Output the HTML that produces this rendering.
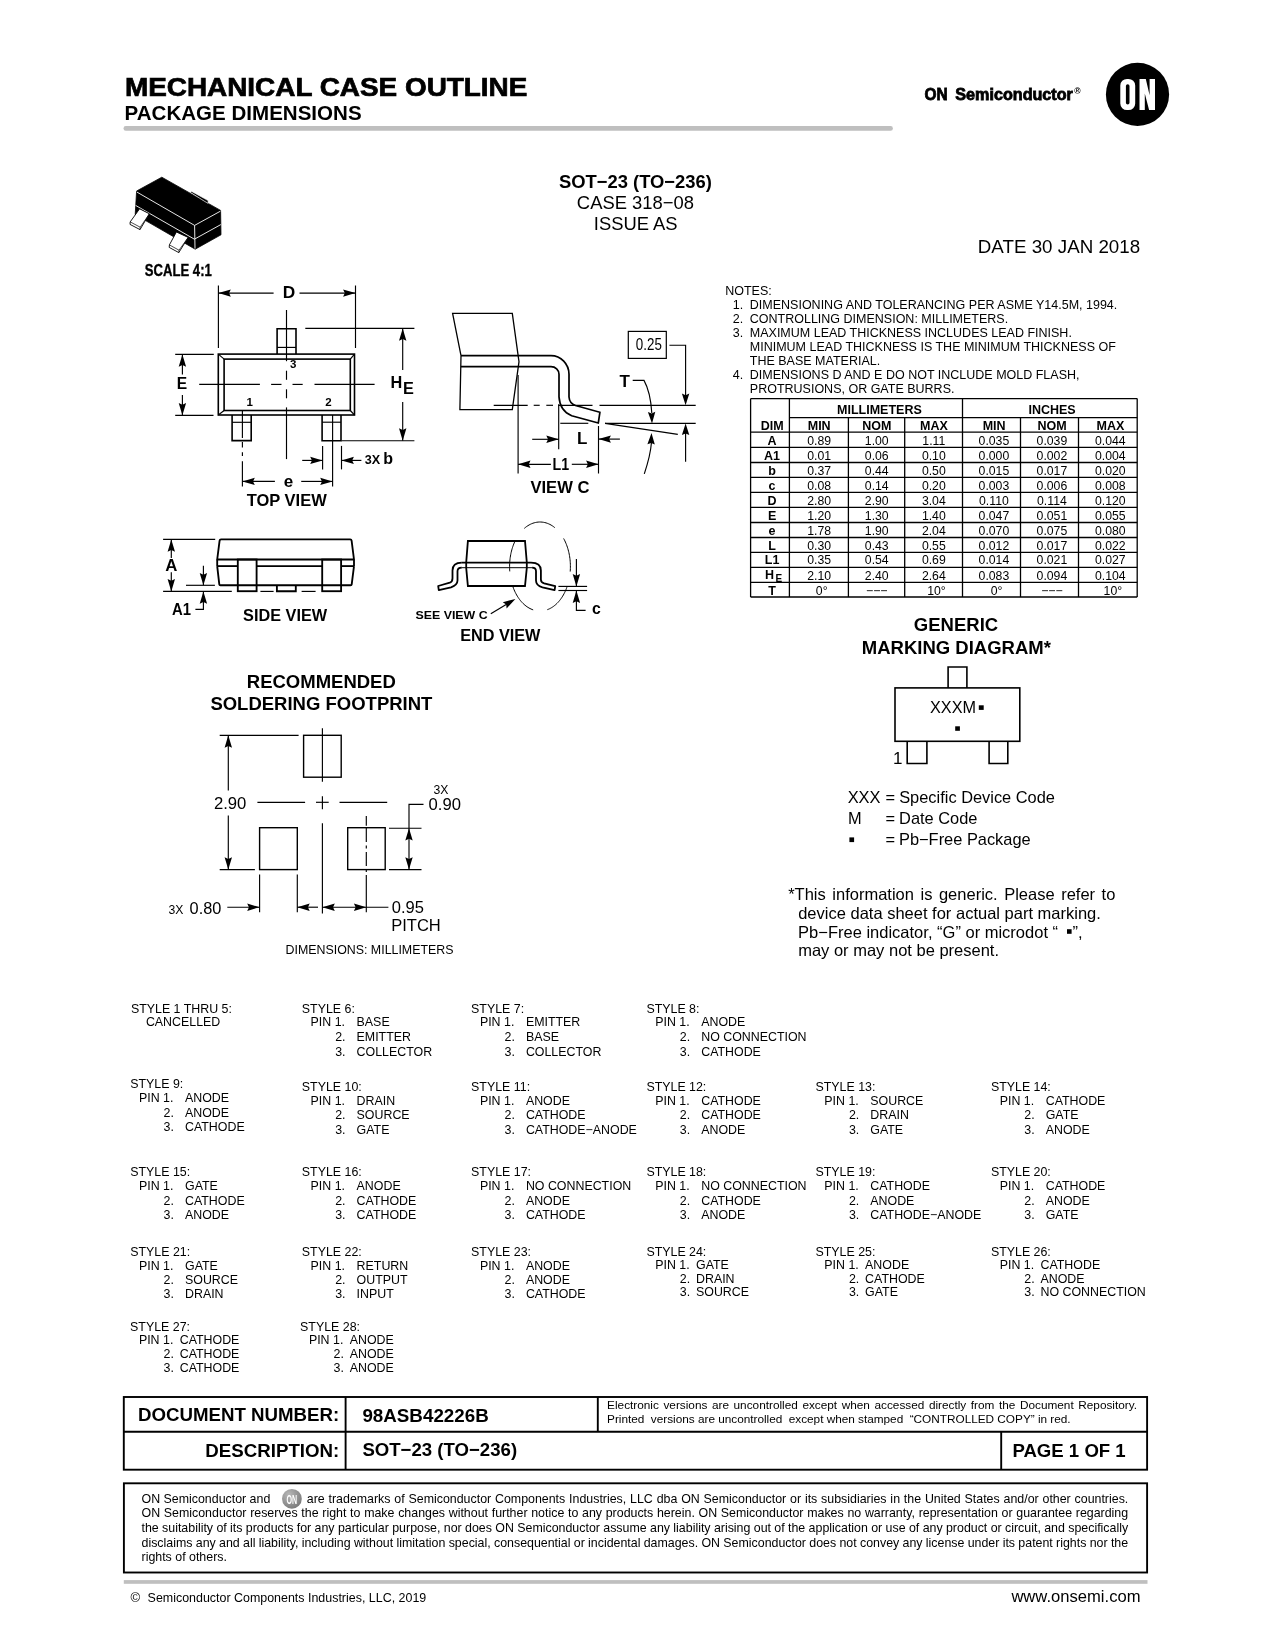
<!DOCTYPE html>
<html><head><meta charset="utf-8"><style>
html,body{margin:0;padding:0;background:#fff;}
body{width:1275px;height:1650px;position:relative;overflow:hidden;font-family:"Liberation Sans",sans-serif;}
svg{position:absolute;left:0;top:0;will-change:transform;}
svg text{font-family:"Liberation Sans",sans-serif;}
.j{position:absolute;white-space:nowrap;text-align:justify;text-align-last:justify;font-family:"Liberation Sans",sans-serif;line-height:1;}
</style></head><body>
<svg width="1275" height="1650" viewBox="0 0 1275 1650">
<text x="124.90" y="95.70" font-size="26" font-weight="bold" textLength="402.50" lengthAdjust="spacingAndGlyphs" stroke="#000" stroke-width="0.7">MECHANICAL CASE OUTLINE</text>
<text x="124.60" y="119.80" font-size="20.6" font-weight="bold" textLength="237.00" lengthAdjust="spacingAndGlyphs" >PACKAGE DIMENSIONS</text>
<rect x="123.5" y="126.1" width="769.4" height="4.6" rx="2.3" fill="#bfbfbf"/>
<text x="924.60" y="100.10" font-size="16.6" font-weight="bold" textLength="23.20" lengthAdjust="spacingAndGlyphs" stroke="#000" stroke-width="0.8">ON</text>
<text x="955.30" y="100.10" font-size="16.6" font-weight="bold" textLength="117.60" lengthAdjust="spacingAndGlyphs" stroke="#000" stroke-width="0.8">Semiconductor</text>
<text x="1074.30" y="94.30" font-size="8.6" font-weight="bold" >®</text>
<circle cx="1137.5" cy="94.4" r="31.6" fill="#000"/>
<path fill="#fff" fill-rule="evenodd" d="M1127.0,78.9 H1128.5 A6.7,6.7 0 0 1 1135.2,85.6 V103.4 A6.7,6.7 0 0 1 1128.5,110.1 H1127.0 A6.7,6.7 0 0 1 1120.3,103.4 V85.6 A6.7,6.7 0 0 1 1127.0,78.9 Z M1127.7,84.2 A1.8,1.8 0 0 0 1125.9,86.0 V102.7 A1.8,1.8 0 0 0 1127.7,104.5 A1.8,1.8 0 0 0 1129.5,102.7 V86.0 A1.8,1.8 0 0 0 1127.7,84.2 Z"/>
<path fill="#fff" d="M1139.5,78.9 L1145.8,78.9 L1149.6,95.2 L1149.6,78.9 L1155.0,78.9 L1155.0,110.1 L1149.1,110.1 L1144.8,93.6 L1144.8,110.1 L1139.5,110.1 Z"/>
<text x="635.40" y="187.70" font-size="18.4" font-weight="bold" text-anchor="middle" >SOT−23 (TO−236)</text>
<text x="635.40" y="208.60" font-size="18.4" text-anchor="middle" >CASE 318−08</text>
<text x="635.70" y="230.30" font-size="18.4" text-anchor="middle" >ISSUE AS</text>
<text x="977.80" y="252.60" font-size="18.7" textLength="162.40" lengthAdjust="spacingAndGlyphs" >DATE 30 JAN 2018</text>
<text x="725.20" y="294.80" font-size="12.5" >NOTES:</text>
<text x="732.80" y="308.80" font-size="12.5" >1.</text>
<text x="749.80" y="308.80" font-size="12.5" >DIMENSIONING AND TOLERANCING PER ASME Y14.5M, 1994.</text>
<text x="732.80" y="322.80" font-size="12.5" >2.</text>
<text x="749.80" y="322.80" font-size="12.5" >CONTROLLING DIMENSION: MILLIMETERS.</text>
<text x="732.80" y="336.80" font-size="12.5" >3.</text>
<text x="749.80" y="336.80" font-size="12.5" >MAXIMUM LEAD THICKNESS INCLUDES LEAD FINISH.</text>
<text x="749.80" y="350.80" font-size="12.5" >MINIMUM LEAD THICKNESS IS THE MINIMUM THICKNESS OF</text>
<text x="749.80" y="364.80" font-size="12.5" >THE BASE MATERIAL.</text>
<text x="732.80" y="378.80" font-size="12.5" >4.</text>
<text x="749.80" y="378.80" font-size="12.5" >DIMENSIONS D AND E DO NOT INCLUDE MOLD FLASH,</text>
<text x="749.80" y="392.80" font-size="12.5" >PROTRUSIONS, OR GATE BURRS.</text>
<line x1="750.60" y1="398.60" x2="1137.20" y2="398.60" stroke="#000" stroke-width="1.3"/>
<line x1="750.60" y1="597.00" x2="1137.20" y2="597.00" stroke="#000" stroke-width="1.3"/>
<line x1="789.40" y1="417.60" x2="1137.20" y2="417.60" stroke="#000" stroke-width="1.3"/>
<line x1="750.60" y1="432.10" x2="1137.20" y2="432.10" stroke="#000" stroke-width="1.3"/>
<line x1="750.60" y1="447.40" x2="1137.20" y2="447.40" stroke="#000" stroke-width="1.3"/>
<line x1="750.60" y1="462.50" x2="1137.20" y2="462.50" stroke="#000" stroke-width="1.3"/>
<line x1="750.60" y1="477.40" x2="1137.20" y2="477.40" stroke="#000" stroke-width="1.3"/>
<line x1="750.60" y1="492.40" x2="1137.20" y2="492.40" stroke="#000" stroke-width="1.3"/>
<line x1="750.60" y1="507.40" x2="1137.20" y2="507.40" stroke="#000" stroke-width="1.3"/>
<line x1="750.60" y1="522.50" x2="1137.20" y2="522.50" stroke="#000" stroke-width="1.3"/>
<line x1="750.60" y1="537.50" x2="1137.20" y2="537.50" stroke="#000" stroke-width="1.3"/>
<line x1="750.60" y1="552.30" x2="1137.20" y2="552.30" stroke="#000" stroke-width="1.3"/>
<line x1="750.60" y1="567.30" x2="1137.20" y2="567.30" stroke="#000" stroke-width="1.3"/>
<line x1="750.60" y1="582.30" x2="1137.20" y2="582.30" stroke="#000" stroke-width="1.3"/>
<line x1="750.60" y1="398.60" x2="750.60" y2="597.00" stroke="#000" stroke-width="1.3"/>
<line x1="789.40" y1="398.60" x2="789.40" y2="597.00" stroke="#000" stroke-width="1.3"/>
<line x1="848.40" y1="417.60" x2="848.40" y2="597.00" stroke="#000" stroke-width="1.3"/>
<line x1="904.70" y1="417.60" x2="904.70" y2="597.00" stroke="#000" stroke-width="1.3"/>
<line x1="962.50" y1="398.60" x2="962.50" y2="597.00" stroke="#000" stroke-width="1.3"/>
<line x1="1020.50" y1="417.60" x2="1020.50" y2="597.00" stroke="#000" stroke-width="1.3"/>
<line x1="1078.50" y1="417.60" x2="1078.50" y2="597.00" stroke="#000" stroke-width="1.3"/>
<line x1="1137.20" y1="398.60" x2="1137.20" y2="597.00" stroke="#000" stroke-width="1.3"/>
<text x="879.45" y="413.80" font-size="12.5" font-weight="bold" text-anchor="middle" >MILLIMETERS</text>
<text x="1052.05" y="413.80" font-size="12.5" font-weight="bold" text-anchor="middle" >INCHES</text>
<text x="772.10" y="429.60" font-size="12.5" font-weight="bold" text-anchor="middle" >DIM</text>
<text x="819.20" y="429.60" font-size="12.5" font-weight="bold" text-anchor="middle" >MIN</text>
<text x="876.85" y="429.60" font-size="12.5" font-weight="bold" text-anchor="middle" >NOM</text>
<text x="933.90" y="429.60" font-size="12.5" font-weight="bold" text-anchor="middle" >MAX</text>
<text x="994.10" y="429.60" font-size="12.5" font-weight="bold" text-anchor="middle" >MIN</text>
<text x="1052.10" y="429.60" font-size="12.5" font-weight="bold" text-anchor="middle" >NOM</text>
<text x="1110.45" y="429.60" font-size="12.5" font-weight="bold" text-anchor="middle" >MAX</text>
<text x="772.10" y="444.90" font-size="12.5" font-weight="bold" text-anchor="middle" >A</text>
<text x="819.10" y="444.90" font-size="12.25" text-anchor="middle" >0.89</text>
<text x="876.75" y="444.90" font-size="12.25" text-anchor="middle" >1.00</text>
<text x="933.80" y="444.90" font-size="12.25" text-anchor="middle" >1.11</text>
<text x="993.90" y="444.90" font-size="12.25" text-anchor="middle" >0.035</text>
<text x="1051.90" y="444.90" font-size="12.25" text-anchor="middle" >0.039</text>
<text x="1110.25" y="444.90" font-size="12.25" text-anchor="middle" >0.044</text>
<text x="772.10" y="459.90" font-size="12.5" font-weight="bold" text-anchor="middle" >A1</text>
<text x="819.10" y="459.90" font-size="12.25" text-anchor="middle" >0.01</text>
<text x="876.75" y="459.90" font-size="12.25" text-anchor="middle" >0.06</text>
<text x="933.80" y="459.90" font-size="12.25" text-anchor="middle" >0.10</text>
<text x="993.90" y="459.90" font-size="12.25" text-anchor="middle" >0.000</text>
<text x="1051.90" y="459.90" font-size="12.25" text-anchor="middle" >0.002</text>
<text x="1110.25" y="459.90" font-size="12.25" text-anchor="middle" >0.004</text>
<text x="772.10" y="475.00" font-size="12.5" font-weight="bold" text-anchor="middle" >b</text>
<text x="819.10" y="475.00" font-size="12.25" text-anchor="middle" >0.37</text>
<text x="876.75" y="475.00" font-size="12.25" text-anchor="middle" >0.44</text>
<text x="933.80" y="475.00" font-size="12.25" text-anchor="middle" >0.50</text>
<text x="993.90" y="475.00" font-size="12.25" text-anchor="middle" >0.015</text>
<text x="1051.90" y="475.00" font-size="12.25" text-anchor="middle" >0.017</text>
<text x="1110.25" y="475.00" font-size="12.25" text-anchor="middle" >0.020</text>
<text x="772.10" y="489.90" font-size="12.5" font-weight="bold" text-anchor="middle" >c</text>
<text x="819.10" y="489.90" font-size="12.25" text-anchor="middle" >0.08</text>
<text x="876.75" y="489.90" font-size="12.25" text-anchor="middle" >0.14</text>
<text x="933.80" y="489.90" font-size="12.25" text-anchor="middle" >0.20</text>
<text x="993.90" y="489.90" font-size="12.25" text-anchor="middle" >0.003</text>
<text x="1051.90" y="489.90" font-size="12.25" text-anchor="middle" >0.006</text>
<text x="1110.25" y="489.90" font-size="12.25" text-anchor="middle" >0.008</text>
<text x="772.10" y="504.90" font-size="12.5" font-weight="bold" text-anchor="middle" >D</text>
<text x="819.10" y="504.90" font-size="12.25" text-anchor="middle" >2.80</text>
<text x="876.75" y="504.90" font-size="12.25" text-anchor="middle" >2.90</text>
<text x="933.80" y="504.90" font-size="12.25" text-anchor="middle" >3.04</text>
<text x="993.90" y="504.90" font-size="12.25" text-anchor="middle" >0.110</text>
<text x="1051.90" y="504.90" font-size="12.25" text-anchor="middle" >0.114</text>
<text x="1110.25" y="504.90" font-size="12.25" text-anchor="middle" >0.120</text>
<text x="772.10" y="519.90" font-size="12.5" font-weight="bold" text-anchor="middle" >E</text>
<text x="819.10" y="519.90" font-size="12.25" text-anchor="middle" >1.20</text>
<text x="876.75" y="519.90" font-size="12.25" text-anchor="middle" >1.30</text>
<text x="933.80" y="519.90" font-size="12.25" text-anchor="middle" >1.40</text>
<text x="993.90" y="519.90" font-size="12.25" text-anchor="middle" >0.047</text>
<text x="1051.90" y="519.90" font-size="12.25" text-anchor="middle" >0.051</text>
<text x="1110.25" y="519.90" font-size="12.25" text-anchor="middle" >0.055</text>
<text x="772.10" y="534.90" font-size="12.5" font-weight="bold" text-anchor="middle" >e</text>
<text x="819.10" y="534.90" font-size="12.25" text-anchor="middle" >1.78</text>
<text x="876.75" y="534.90" font-size="12.25" text-anchor="middle" >1.90</text>
<text x="933.80" y="534.90" font-size="12.25" text-anchor="middle" >2.04</text>
<text x="993.90" y="534.90" font-size="12.25" text-anchor="middle" >0.070</text>
<text x="1051.90" y="534.90" font-size="12.25" text-anchor="middle" >0.075</text>
<text x="1110.25" y="534.90" font-size="12.25" text-anchor="middle" >0.080</text>
<text x="772.10" y="549.80" font-size="12.5" font-weight="bold" text-anchor="middle" >L</text>
<text x="819.10" y="549.80" font-size="12.25" text-anchor="middle" >0.30</text>
<text x="876.75" y="549.80" font-size="12.25" text-anchor="middle" >0.43</text>
<text x="933.80" y="549.80" font-size="12.25" text-anchor="middle" >0.55</text>
<text x="993.90" y="549.80" font-size="12.25" text-anchor="middle" >0.012</text>
<text x="1051.90" y="549.80" font-size="12.25" text-anchor="middle" >0.017</text>
<text x="1110.25" y="549.80" font-size="12.25" text-anchor="middle" >0.022</text>
<text x="772.10" y="563.90" font-size="12.5" font-weight="bold" text-anchor="middle" >L1</text>
<text x="819.10" y="563.90" font-size="12.25" text-anchor="middle" >0.35</text>
<text x="876.75" y="563.90" font-size="12.25" text-anchor="middle" >0.54</text>
<text x="933.80" y="563.90" font-size="12.25" text-anchor="middle" >0.69</text>
<text x="993.90" y="563.90" font-size="12.25" text-anchor="middle" >0.014</text>
<text x="1051.90" y="563.90" font-size="12.25" text-anchor="middle" >0.021</text>
<text x="1110.25" y="563.90" font-size="12.25" text-anchor="middle" >0.027</text>
<text x="769.60" y="579.40" font-size="12.5" font-weight="bold" text-anchor="middle" >H</text>
<text x="778.90" y="581.80" font-size="10" font-weight="bold" text-anchor="middle" >E</text>
<text x="819.10" y="580.00" font-size="12.25" text-anchor="middle" >2.10</text>
<text x="876.75" y="580.00" font-size="12.25" text-anchor="middle" >2.40</text>
<text x="933.80" y="580.00" font-size="12.25" text-anchor="middle" >2.64</text>
<text x="993.90" y="580.00" font-size="12.25" text-anchor="middle" >0.083</text>
<text x="1051.90" y="580.00" font-size="12.25" text-anchor="middle" >0.094</text>
<text x="1110.25" y="580.00" font-size="12.25" text-anchor="middle" >0.104</text>
<text x="772.10" y="594.70" font-size="12.5" font-weight="bold" text-anchor="middle" >T</text>
<text x="821.70" y="594.70" font-size="12.25" text-anchor="middle" >0°</text>
<text x="876.75" y="594.70" font-size="12.25" text-anchor="middle" >−−−</text>
<text x="936.40" y="594.70" font-size="12.25" text-anchor="middle" >10°</text>
<text x="996.50" y="594.70" font-size="12.25" text-anchor="middle" >0°</text>
<text x="1051.90" y="594.70" font-size="12.25" text-anchor="middle" >−−−</text>
<text x="1112.85" y="594.70" font-size="12.25" text-anchor="middle" >10°</text>
<text x="130.90" y="1013.10" font-size="12.4" >STYLE 1 THRU 5:</text>
<text x="145.90" y="1025.70" font-size="12.4" >CANCELLED</text>
<text x="301.80" y="1012.80" font-size="12.4" >STYLE 6:</text>
<text x="310.60" y="1025.60" font-size="12.4" >PIN 1.</text>
<text x="356.60" y="1025.60" font-size="12.4" >BASE</text>
<text x="335.20" y="1040.60" font-size="12.4" >2.</text>
<text x="356.60" y="1040.60" font-size="12.4" >EMITTER</text>
<text x="335.20" y="1055.60" font-size="12.4" >3.</text>
<text x="356.60" y="1055.60" font-size="12.4" >COLLECTOR</text>
<text x="471.10" y="1012.80" font-size="12.4" >STYLE 7:</text>
<text x="479.90" y="1025.60" font-size="12.4" >PIN 1.</text>
<text x="525.90" y="1025.60" font-size="12.4" >EMITTER</text>
<text x="504.50" y="1040.60" font-size="12.4" >2.</text>
<text x="525.90" y="1040.60" font-size="12.4" >BASE</text>
<text x="504.50" y="1055.60" font-size="12.4" >3.</text>
<text x="525.90" y="1055.60" font-size="12.4" >COLLECTOR</text>
<text x="646.40" y="1012.80" font-size="12.4" >STYLE 8:</text>
<text x="655.20" y="1025.60" font-size="12.4" >PIN 1.</text>
<text x="701.20" y="1025.60" font-size="12.4" >ANODE</text>
<text x="679.80" y="1040.60" font-size="12.4" >2.</text>
<text x="701.20" y="1040.60" font-size="12.4" >NO CONNECTION</text>
<text x="679.80" y="1055.60" font-size="12.4" >3.</text>
<text x="701.20" y="1055.60" font-size="12.4" >CATHODE</text>
<text x="130.20" y="1087.60" font-size="12.4" >STYLE 9:</text>
<text x="139.00" y="1101.60" font-size="12.4" >PIN 1.</text>
<text x="185.00" y="1101.60" font-size="12.4" >ANODE</text>
<text x="163.60" y="1116.80" font-size="12.4" >2.</text>
<text x="185.00" y="1116.80" font-size="12.4" >ANODE</text>
<text x="163.60" y="1130.90" font-size="12.4" >3.</text>
<text x="185.00" y="1130.90" font-size="12.4" >CATHODE</text>
<text x="301.80" y="1090.50" font-size="12.4" >STYLE 10:</text>
<text x="310.60" y="1104.80" font-size="12.4" >PIN 1.</text>
<text x="356.60" y="1104.80" font-size="12.4" >DRAIN</text>
<text x="335.20" y="1118.80" font-size="12.4" >2.</text>
<text x="356.60" y="1118.80" font-size="12.4" >SOURCE</text>
<text x="335.20" y="1133.70" font-size="12.4" >3.</text>
<text x="356.60" y="1133.70" font-size="12.4" >GATE</text>
<text x="471.10" y="1090.50" font-size="12.4" >STYLE 11:</text>
<text x="479.90" y="1104.80" font-size="12.4" >PIN 1.</text>
<text x="525.90" y="1104.80" font-size="12.4" >ANODE</text>
<text x="504.50" y="1118.80" font-size="12.4" >2.</text>
<text x="525.90" y="1118.80" font-size="12.4" >CATHODE</text>
<text x="504.50" y="1133.70" font-size="12.4" >3.</text>
<text x="525.90" y="1133.70" font-size="12.4" >CATHODE−ANODE</text>
<text x="646.40" y="1090.50" font-size="12.4" >STYLE 12:</text>
<text x="655.20" y="1104.80" font-size="12.4" >PIN 1.</text>
<text x="701.20" y="1104.80" font-size="12.4" >CATHODE</text>
<text x="679.80" y="1118.80" font-size="12.4" >2.</text>
<text x="701.20" y="1118.80" font-size="12.4" >CATHODE</text>
<text x="679.80" y="1133.70" font-size="12.4" >3.</text>
<text x="701.20" y="1133.70" font-size="12.4" >ANODE</text>
<text x="815.50" y="1090.50" font-size="12.4" >STYLE 13:</text>
<text x="824.30" y="1104.80" font-size="12.4" >PIN 1.</text>
<text x="870.30" y="1104.80" font-size="12.4" >SOURCE</text>
<text x="848.90" y="1118.80" font-size="12.4" >2.</text>
<text x="870.30" y="1118.80" font-size="12.4" >DRAIN</text>
<text x="848.90" y="1133.70" font-size="12.4" >3.</text>
<text x="870.30" y="1133.70" font-size="12.4" >GATE</text>
<text x="990.90" y="1090.50" font-size="12.4" >STYLE 14:</text>
<text x="999.70" y="1104.80" font-size="12.4" >PIN 1.</text>
<text x="1045.70" y="1104.80" font-size="12.4" >CATHODE</text>
<text x="1024.30" y="1118.80" font-size="12.4" >2.</text>
<text x="1045.70" y="1118.80" font-size="12.4" >GATE</text>
<text x="1024.30" y="1133.70" font-size="12.4" >3.</text>
<text x="1045.70" y="1133.70" font-size="12.4" >ANODE</text>
<text x="130.20" y="1175.50" font-size="12.4" >STYLE 15:</text>
<text x="139.00" y="1189.70" font-size="12.4" >PIN 1.</text>
<text x="185.00" y="1189.70" font-size="12.4" >GATE</text>
<text x="163.60" y="1204.50" font-size="12.4" >2.</text>
<text x="185.00" y="1204.50" font-size="12.4" >CATHODE</text>
<text x="163.60" y="1218.50" font-size="12.4" >3.</text>
<text x="185.00" y="1218.50" font-size="12.4" >ANODE</text>
<text x="301.80" y="1175.50" font-size="12.4" >STYLE 16:</text>
<text x="310.60" y="1189.70" font-size="12.4" >PIN 1.</text>
<text x="356.60" y="1189.70" font-size="12.4" >ANODE</text>
<text x="335.20" y="1204.50" font-size="12.4" >2.</text>
<text x="356.60" y="1204.50" font-size="12.4" >CATHODE</text>
<text x="335.20" y="1218.50" font-size="12.4" >3.</text>
<text x="356.60" y="1218.50" font-size="12.4" >CATHODE</text>
<text x="471.10" y="1175.50" font-size="12.4" >STYLE 17:</text>
<text x="479.90" y="1189.70" font-size="12.4" >PIN 1.</text>
<text x="525.90" y="1189.70" font-size="12.4" >NO CONNECTION</text>
<text x="504.50" y="1204.50" font-size="12.4" >2.</text>
<text x="525.90" y="1204.50" font-size="12.4" >ANODE</text>
<text x="504.50" y="1218.50" font-size="12.4" >3.</text>
<text x="525.90" y="1218.50" font-size="12.4" >CATHODE</text>
<text x="646.40" y="1175.50" font-size="12.4" >STYLE 18:</text>
<text x="655.20" y="1189.70" font-size="12.4" >PIN 1.</text>
<text x="701.20" y="1189.70" font-size="12.4" >NO CONNECTION</text>
<text x="679.80" y="1204.50" font-size="12.4" >2.</text>
<text x="701.20" y="1204.50" font-size="12.4" >CATHODE</text>
<text x="679.80" y="1218.50" font-size="12.4" >3.</text>
<text x="701.20" y="1218.50" font-size="12.4" >ANODE</text>
<text x="815.50" y="1175.50" font-size="12.4" >STYLE 19:</text>
<text x="824.30" y="1189.70" font-size="12.4" >PIN 1.</text>
<text x="870.30" y="1189.70" font-size="12.4" >CATHODE</text>
<text x="848.90" y="1204.50" font-size="12.4" >2.</text>
<text x="870.30" y="1204.50" font-size="12.4" >ANODE</text>
<text x="848.90" y="1218.50" font-size="12.4" >3.</text>
<text x="870.30" y="1218.50" font-size="12.4" >CATHODE−ANODE</text>
<text x="990.90" y="1175.50" font-size="12.4" >STYLE 20:</text>
<text x="999.70" y="1189.70" font-size="12.4" >PIN 1.</text>
<text x="1045.70" y="1189.70" font-size="12.4" >CATHODE</text>
<text x="1024.30" y="1204.50" font-size="12.4" >2.</text>
<text x="1045.70" y="1204.50" font-size="12.4" >ANODE</text>
<text x="1024.30" y="1218.50" font-size="12.4" >3.</text>
<text x="1045.70" y="1218.50" font-size="12.4" >GATE</text>
<text x="130.20" y="1255.50" font-size="12.4" >STYLE 21:</text>
<text x="139.00" y="1269.50" font-size="12.4" >PIN 1.</text>
<text x="185.00" y="1269.50" font-size="12.4" >GATE</text>
<text x="163.60" y="1284.30" font-size="12.4" >2.</text>
<text x="185.00" y="1284.30" font-size="12.4" >SOURCE</text>
<text x="163.60" y="1298.30" font-size="12.4" >3.</text>
<text x="185.00" y="1298.30" font-size="12.4" >DRAIN</text>
<text x="301.80" y="1255.50" font-size="12.4" >STYLE 22:</text>
<text x="310.60" y="1269.50" font-size="12.4" >PIN 1.</text>
<text x="356.60" y="1269.50" font-size="12.4" >RETURN</text>
<text x="335.20" y="1284.30" font-size="12.4" >2.</text>
<text x="356.60" y="1284.30" font-size="12.4" >OUTPUT</text>
<text x="335.20" y="1298.30" font-size="12.4" >3.</text>
<text x="356.60" y="1298.30" font-size="12.4" >INPUT</text>
<text x="471.10" y="1255.50" font-size="12.4" >STYLE 23:</text>
<text x="479.90" y="1269.50" font-size="12.4" >PIN 1.</text>
<text x="525.90" y="1269.50" font-size="12.4" >ANODE</text>
<text x="504.50" y="1284.30" font-size="12.4" >2.</text>
<text x="525.90" y="1284.30" font-size="12.4" >ANODE</text>
<text x="504.50" y="1298.30" font-size="12.4" >3.</text>
<text x="525.90" y="1298.30" font-size="12.4" >CATHODE</text>
<text x="646.40" y="1255.50" font-size="12.4" >STYLE 24:</text>
<text x="655.20" y="1269.30" font-size="12.4" >PIN 1.</text>
<text x="696.00" y="1269.30" font-size="12.4" >GATE</text>
<text x="679.80" y="1282.70" font-size="12.4" >2.</text>
<text x="696.00" y="1282.70" font-size="12.4" >DRAIN</text>
<text x="679.80" y="1296.40" font-size="12.4" >3.</text>
<text x="696.00" y="1296.40" font-size="12.4" >SOURCE</text>
<text x="815.50" y="1255.50" font-size="12.4" >STYLE 25:</text>
<text x="824.30" y="1269.30" font-size="12.4" >PIN 1.</text>
<text x="865.10" y="1269.30" font-size="12.4" >ANODE</text>
<text x="848.90" y="1282.70" font-size="12.4" >2.</text>
<text x="865.10" y="1282.70" font-size="12.4" >CATHODE</text>
<text x="848.90" y="1296.40" font-size="12.4" >3.</text>
<text x="865.10" y="1296.40" font-size="12.4" >GATE</text>
<text x="990.90" y="1255.50" font-size="12.4" >STYLE 26:</text>
<text x="999.70" y="1269.30" font-size="12.4" >PIN 1.</text>
<text x="1040.50" y="1269.30" font-size="12.4" >CATHODE</text>
<text x="1024.30" y="1282.70" font-size="12.4" >2.</text>
<text x="1040.50" y="1282.70" font-size="12.4" >ANODE</text>
<text x="1024.30" y="1296.40" font-size="12.4" >3.</text>
<text x="1040.50" y="1296.40" font-size="12.4" >NO CONNECTION</text>
<text x="130.10" y="1330.50" font-size="12.4" >STYLE 27:</text>
<text x="138.90" y="1344.20" font-size="12.4" >PIN 1.</text>
<text x="179.70" y="1344.20" font-size="12.4" >CATHODE</text>
<text x="163.50" y="1358.20" font-size="12.4" >2.</text>
<text x="179.70" y="1358.20" font-size="12.4" >CATHODE</text>
<text x="163.50" y="1372.10" font-size="12.4" >3.</text>
<text x="179.70" y="1372.10" font-size="12.4" >CATHODE</text>
<text x="300.10" y="1330.50" font-size="12.4" >STYLE 28:</text>
<text x="308.90" y="1344.20" font-size="12.4" >PIN 1.</text>
<text x="349.70" y="1344.20" font-size="12.4" >ANODE</text>
<text x="333.50" y="1358.20" font-size="12.4" >2.</text>
<text x="349.70" y="1358.20" font-size="12.4" >ANODE</text>
<text x="333.50" y="1372.10" font-size="12.4" >3.</text>
<text x="349.70" y="1372.10" font-size="12.4" >ANODE</text>
<rect x="123.80" y="1397.00" width="1023.30" height="72.70" fill="none" stroke="#000" stroke-width="1.9"/>
<line x1="123.80" y1="1431.80" x2="1147.10" y2="1431.80" stroke="#000" stroke-width="1.9"/>
<line x1="345.60" y1="1397.00" x2="345.60" y2="1469.70" stroke="#000" stroke-width="1.9"/>
<line x1="597.80" y1="1397.00" x2="597.80" y2="1431.80" stroke="#000" stroke-width="1.9"/>
<line x1="1001.20" y1="1431.80" x2="1001.20" y2="1469.70" stroke="#000" stroke-width="1.9"/>
<text x="339.30" y="1420.90" font-size="18.7" font-weight="bold" text-anchor="end" >DOCUMENT NUMBER:</text>
<text x="339.30" y="1456.80" font-size="18.7" font-weight="bold" text-anchor="end" >DESCRIPTION:</text>
<text x="362.40" y="1421.70" font-size="18.8" font-weight="bold" >98ASB42226B</text>
<text x="362.40" y="1456.40" font-size="18.6" font-weight="bold" >SOT−23 (TO−236)</text>
<text x="1012.40" y="1456.60" font-size="18.6" font-weight="bold" >PAGE 1 OF 1</text>
<text x="607.10" y="1408.70" font-size="11.8" style="word-spacing:1.286px">Electronic versions are uncontrolled except when accessed directly from the Document Repository.</text>
<text x="607.10" y="1423.40" font-size="11.8" textLength="463.50" lengthAdjust="spacing" style="white-space:pre">Printed  versions are uncontrolled  except when stamped  “CONTROLLED COPY” in red.</text>
<rect x="123.90" y="1483.30" width="1023.20" height="89.20" fill="none" stroke="#000" stroke-width="1.9"/>
<text x="141.50" y="1502.80" font-size="12.4" >ON Semiconductor and</text>
<defs><radialGradient id="g1" cx="0.35" cy="0.3" r="0.75"><stop offset="0" stop-color="#b8b8b8"/><stop offset="1" stop-color="#7a7a7a"/></radialGradient></defs>
<circle cx="291.9" cy="1498.8" r="9.9" fill="url(#g1)"/>
<text x="291.80" y="1504.00" font-size="13.2" font-weight="bold" text-anchor="middle" textLength="10.60" lengthAdjust="spacingAndGlyphs" fill="#fff" >ON</text>
<text x="306.80" y="1502.80" font-size="12.4" style="word-spacing:0.391px">are trademarks of Semiconductor Components Industries, LLC dba ON Semiconductor or its subsidiaries in the United States and/or other countries.</text>
<text x="141.50" y="1517.40" font-size="12.4" style="word-spacing:0.267px">ON Semiconductor reserves the right to make changes without further notice to any products herein. ON Semiconductor makes no warranty, representation or guarantee regarding</text>
<text x="141.50" y="1532.20" font-size="12.4" style="word-spacing:-0.081px">the suitability of its products for any particular purpose, nor does ON Semiconductor assume any liability arising out of the application or use of any product or circuit, and specifically</text>
<text x="141.50" y="1546.80" font-size="12.4" style="word-spacing:-0.142px">disclaims any and all liability, including without limitation special, consequential or incidental damages. ON Semiconductor does not convey any license under its patent rights nor the</text>
<text x="141.50" y="1560.90" font-size="12.4" >rights of others.</text>
<rect x="123.8" y="1580.1" width="1023.7" height="3.7" fill="#bfbfbf"/>
<text x="130.40" y="1602.00" font-size="13" >©</text>
<text x="147.60" y="1602.10" font-size="12.45" >Semiconductor Components Industries, LLC, 2019</text>
<text x="1140.50" y="1602.00" font-size="16.6" text-anchor="end" >www.onsemi.com</text>
<line x1="218.40" y1="285.50" x2="218.40" y2="348.00" stroke="#000" stroke-width="1.15"/>
<line x1="355.50" y1="285.50" x2="355.50" y2="348.00" stroke="#000" stroke-width="1.15"/>
<line x1="218.40" y1="293.10" x2="273.60" y2="293.10" stroke="#000" stroke-width="1.15"/>
<path d="M218.40,293.10 L230.80,289.40 L229.06,293.10 L230.80,296.80 Z" fill="#000" stroke="none"/>
<line x1="299.50" y1="293.10" x2="355.50" y2="293.10" stroke="#000" stroke-width="1.15"/>
<path d="M355.50,293.10 L343.10,296.80 L344.84,293.10 L343.10,289.40 Z" fill="#000" stroke="none"/>
<text x="289.00" y="297.90" font-size="17.3" font-weight="bold" text-anchor="middle" >D</text>
<rect x="218.30" y="354.10" width="136.20" height="60.90" fill="none" stroke="#000" stroke-width="1.6"/>
<rect x="224.10" y="359.10" width="126.20" height="51.40" fill="none" stroke="#000" stroke-width="1.6"/>
<line x1="218.30" y1="354.10" x2="224.10" y2="359.10" stroke="#000" stroke-width="1.15"/>
<line x1="354.50" y1="354.10" x2="350.30" y2="359.10" stroke="#000" stroke-width="1.15"/>
<line x1="218.30" y1="415.00" x2="224.10" y2="410.50" stroke="#000" stroke-width="1.15"/>
<line x1="354.50" y1="415.00" x2="350.30" y2="410.50" stroke="#000" stroke-width="1.15"/>
<path d="M277.10,354.10 L277.10,328.80 L296.00,328.80 L296.00,354.10" fill="none" stroke="#000" stroke-width="1.6" stroke-linejoin="miter"/>
<line x1="277.10" y1="347.40" x2="296.00" y2="347.40" stroke="#000" stroke-width="1.15"/>
<path d="M232.10,415.00 L232.10,440.60 L251.20,440.60 L251.20,415.00" fill="none" stroke="#000" stroke-width="1.6" stroke-linejoin="miter"/>
<line x1="232.10" y1="422.30" x2="251.20" y2="422.30" stroke="#000" stroke-width="1.15"/>
<path d="M322.10,415.00 L322.10,440.70 L341.00,440.70 L341.00,415.00" fill="none" stroke="#000" stroke-width="1.6" stroke-linejoin="miter"/>
<line x1="322.10" y1="422.20" x2="341.00" y2="422.20" stroke="#000" stroke-width="1.15"/>
<line x1="286.50" y1="310.00" x2="286.50" y2="361.20" stroke="#000" stroke-width="1.15"/>
<line x1="286.50" y1="370.70" x2="286.50" y2="379.80" stroke="#000" stroke-width="1.15"/>
<line x1="286.50" y1="389.30" x2="286.50" y2="398.30" stroke="#000" stroke-width="1.15"/>
<line x1="286.50" y1="407.40" x2="286.50" y2="459.10" stroke="#000" stroke-width="1.15"/>
<line x1="199.20" y1="384.40" x2="259.90" y2="384.40" stroke="#000" stroke-width="1.15"/>
<line x1="271.10" y1="384.40" x2="281.50" y2="384.40" stroke="#000" stroke-width="1.15"/>
<line x1="292.50" y1="384.40" x2="302.70" y2="384.40" stroke="#000" stroke-width="1.15"/>
<line x1="314.50" y1="384.40" x2="374.60" y2="384.40" stroke="#000" stroke-width="1.15"/>
<line x1="242.40" y1="411.00" x2="242.40" y2="438.00" stroke="#000" stroke-width="1.15"/>
<line x1="242.40" y1="441.90" x2="242.40" y2="447.50" stroke="#000" stroke-width="1.15"/>
<line x1="242.40" y1="452.20" x2="242.40" y2="456.10" stroke="#000" stroke-width="1.15"/>
<line x1="242.40" y1="461.30" x2="242.40" y2="486.50" stroke="#000" stroke-width="1.15"/>
<line x1="332.60" y1="415.00" x2="332.60" y2="486.50" stroke="#000" stroke-width="1.15"/>
<text x="246.40" y="405.70" font-size="11.5" font-weight="bold" >1</text>
<text x="325.20" y="405.60" font-size="11.5" font-weight="bold" >2</text>
<text x="290.00" y="367.60" font-size="11.5" font-weight="bold" >3</text>
<line x1="175.20" y1="354.40" x2="213.80" y2="354.40" stroke="#000" stroke-width="1.15"/>
<line x1="175.20" y1="415.30" x2="213.50" y2="415.30" stroke="#000" stroke-width="1.15"/>
<line x1="182.40" y1="354.40" x2="182.40" y2="374.60" stroke="#000" stroke-width="1.15"/>
<path d="M182.40,354.40 L186.10,366.80 L182.40,365.06 L178.70,366.80 Z" fill="#000" stroke="none"/>
<line x1="182.40" y1="394.90" x2="182.40" y2="415.30" stroke="#000" stroke-width="1.15"/>
<path d="M182.40,415.30 L178.70,402.90 L182.40,404.64 L186.10,402.90 Z" fill="#000" stroke="none"/>
<text x="181.90" y="388.80" font-size="17" font-weight="bold" text-anchor="middle" textLength="10.40" lengthAdjust="spacingAndGlyphs" >E</text>
<line x1="305.30" y1="328.40" x2="414.40" y2="328.40" stroke="#000" stroke-width="1.15"/>
<line x1="341.50" y1="440.70" x2="414.40" y2="440.70" stroke="#000" stroke-width="1.15"/>
<line x1="402.70" y1="328.40" x2="402.70" y2="370.00" stroke="#000" stroke-width="1.15"/>
<path d="M402.70,328.40 L406.40,340.80 L402.70,339.06 L399.00,340.80 Z" fill="#000" stroke="none"/>
<line x1="402.70" y1="402.10" x2="402.70" y2="440.70" stroke="#000" stroke-width="1.15"/>
<path d="M402.70,440.70 L399.00,428.30 L402.70,430.04 L406.40,428.30 Z" fill="#000" stroke="none"/>
<text x="390.60" y="387.80" font-size="16.3" font-weight="bold" >H</text>
<text x="403.00" y="394.20" font-size="16.3" font-weight="bold" >E</text>
<line x1="322.60" y1="445.90" x2="322.60" y2="469.40" stroke="#000" stroke-width="1.15"/>
<line x1="341.50" y1="445.90" x2="341.50" y2="469.40" stroke="#000" stroke-width="1.15"/>
<line x1="302.20" y1="460.40" x2="322.60" y2="460.40" stroke="#000" stroke-width="1.15"/>
<path d="M322.60,460.40 L310.20,464.10 L311.94,460.40 L310.20,456.70 Z" fill="#000" stroke="none"/>
<line x1="341.50" y1="460.40" x2="361.40" y2="460.40" stroke="#000" stroke-width="1.15"/>
<path d="M341.50,460.40 L353.90,456.70 L352.16,460.40 L353.90,464.10 Z" fill="#000" stroke="none"/>
<text x="364.70" y="463.80" font-size="12.6" font-weight="bold" textLength="15.40" lengthAdjust="spacingAndGlyphs" >3X</text>
<text x="383.30" y="463.80" font-size="16" font-weight="bold" >b</text>
<line x1="242.40" y1="481.40" x2="274.90" y2="481.40" stroke="#000" stroke-width="1.15"/>
<path d="M242.40,481.40 L254.80,477.70 L253.06,481.40 L254.80,485.10 Z" fill="#000" stroke="none"/>
<line x1="301.20" y1="481.40" x2="332.60" y2="481.40" stroke="#000" stroke-width="1.15"/>
<path d="M332.60,481.40 L320.20,485.10 L321.94,481.40 L320.20,477.70 Z" fill="#000" stroke="none"/>
<text x="288.60" y="486.60" font-size="17" font-weight="bold" text-anchor="middle" >e</text>
<text x="246.70" y="505.90" font-size="16.5" font-weight="bold" textLength="80.00" lengthAdjust="spacingAndGlyphs" >TOP VIEW</text>
<path d="M461.00,355.70 L452.60,313.30 L512.30,313.30 L518.10,355.40 L519.00,361.70 L512.30,409.70 L459.90,409.70 L461.00,355.70" fill="none" stroke="#000" stroke-width="1.3" stroke-linejoin="miter"/>
<path d="M461.0,355.7 H551.0 A18,18.6 0 0 1 569.0,374.3 V397.0 Q569.5,403.5 575.5,405.5 L599.9,412.3 L598.3,423.0 L571.7,415.7 Q560.0,411.0 559.0,397.0 V374.3 A8,7.6 0 0 0 551.0,366.7 H461.0" fill="none" stroke="#000" stroke-width="1.7" />
<line x1="493.70" y1="405.30" x2="527.70" y2="405.30" stroke="#000" stroke-width="1.15"/>
<line x1="533.70" y1="405.30" x2="539.70" y2="405.30" stroke="#000" stroke-width="1.15"/>
<line x1="546.30" y1="405.30" x2="553.00" y2="405.30" stroke="#000" stroke-width="1.15"/>
<line x1="558.30" y1="405.30" x2="592.50" y2="405.30" stroke="#000" stroke-width="1.15"/>
<line x1="599.50" y1="405.30" x2="695.70" y2="405.30" stroke="#000" stroke-width="1.15"/>
<line x1="518.10" y1="375.00" x2="518.10" y2="473.50" stroke="#000" stroke-width="1.15"/>
<line x1="558.70" y1="404.30" x2="558.70" y2="449.30" stroke="#000" stroke-width="1.15"/>
<line x1="598.50" y1="426.00" x2="598.50" y2="473.50" stroke="#000" stroke-width="1.15"/>
<line x1="560.30" y1="423.30" x2="588.30" y2="423.30" stroke="#000" stroke-width="1.15"/>
<line x1="605.00" y1="423.40" x2="695.70" y2="423.40" stroke="#000" stroke-width="1.15"/>
<line x1="605.00" y1="423.40" x2="677.80" y2="434.40" stroke="#000" stroke-width="1.15"/>
<line x1="532.20" y1="439.30" x2="558.70" y2="439.30" stroke="#000" stroke-width="1.15"/>
<path d="M558.70,439.30 L546.30,443.00 L548.04,439.30 L546.30,435.60 Z" fill="#000" stroke="none"/>
<line x1="598.50" y1="439.10" x2="619.90" y2="439.10" stroke="#000" stroke-width="1.15"/>
<path d="M598.50,439.10 L610.90,435.40 L609.16,439.10 L610.90,442.80 Z" fill="#000" stroke="none"/>
<text x="577.00" y="443.80" font-size="17" font-weight="bold" >L</text>
<line x1="518.10" y1="464.30" x2="550.90" y2="464.30" stroke="#000" stroke-width="1.15"/>
<path d="M518.10,464.30 L530.50,460.60 L528.76,464.30 L530.50,468.00 Z" fill="#000" stroke="none"/>
<line x1="571.80" y1="464.30" x2="598.50" y2="464.30" stroke="#000" stroke-width="1.15"/>
<path d="M598.50,464.30 L586.10,468.00 L587.84,464.30 L586.10,460.60 Z" fill="#000" stroke="none"/>
<text x="552.60" y="469.70" font-size="17" font-weight="bold" textLength="16.60" lengthAdjust="spacingAndGlyphs" >L1</text>
<text x="530.40" y="492.90" font-size="17" font-weight="bold" textLength="59.00" lengthAdjust="spacingAndGlyphs" >VIEW C</text>
<rect x="628.30" y="331.40" width="38.00" height="27.00" fill="none" stroke="#000" stroke-width="1.2"/>
<text x="648.85" y="350.10" font-size="17" text-anchor="middle" textLength="26.00" lengthAdjust="spacingAndGlyphs" >0.25</text>
<path d="M669.40,345.20 L685.60,345.20 L685.60,400.00" fill="none" stroke="#000" stroke-width="1.15" stroke-linejoin="miter"/>
<path d="M685.60,405.30 L681.90,393.60 L685.60,395.24 L689.30,393.60 Z" fill="#000" stroke="none"/>
<line x1="685.60" y1="428.00" x2="685.60" y2="461.70" stroke="#000" stroke-width="1.15"/>
<path d="M685.60,423.40 L689.30,435.10 L685.60,433.46 L681.90,435.10 Z" fill="#000" stroke="none"/>
<text x="619.60" y="386.70" font-size="17" font-weight="bold" >T</text>
<path d="M632.7,380.4 H644.0 Q650.5,392 651.8,413.0" fill="none" stroke="#000" stroke-width="1.15" />
<path d="M652.00,423.40 L647.90,412.04 L651.65,413.52 L655.30,411.78 Z" fill="#000" stroke="none"/>
<path d="M644.3,473.9 Q650.5,455 651.4,443.0" fill="none" stroke="#000" stroke-width="1.15" />
<path d="M651.50,433.00 L654.80,444.62 L651.15,442.88 L647.40,444.36 Z" fill="#000" stroke="none"/>
<path d="M217.2,559.5 L219.6,540.6 Q219.8,539.4 221.0,539.4 L350.2,539.4 Q351.4,539.4 351.6,540.6 L354.0,559.5 Z" fill="none" stroke="#000" stroke-width="1.85" stroke-linejoin="round"/>
<path d="M217.2,566.1 L219.3,584.3 Q219.4,585.2 220.4,585.2 L350.6,585.2 Q351.6,585.2 351.7,584.3 L354.0,566.1" fill="none" stroke="#000" stroke-width="1.85" stroke-linejoin="round"/>
<line x1="217.20" y1="559.50" x2="217.20" y2="566.10" stroke="#000" stroke-width="1.85"/>
<line x1="354.00" y1="559.50" x2="354.00" y2="566.10" stroke="#000" stroke-width="1.85"/>
<line x1="217.20" y1="566.10" x2="237.80" y2="566.10" stroke="#000" stroke-width="1.85"/>
<line x1="256.60" y1="566.10" x2="322.20" y2="566.10" stroke="#000" stroke-width="1.85"/>
<line x1="341.10" y1="566.10" x2="354.00" y2="566.10" stroke="#000" stroke-width="1.85"/>
<rect x="237.80" y="559.50" width="18.80" height="31.70" fill="none" stroke="#000" stroke-width="1.85"/>
<rect x="322.20" y="559.50" width="18.90" height="31.70" fill="none" stroke="#000" stroke-width="1.85"/>
<path d="M276.90,585.20 L276.90,591.20 L295.80,591.20 L295.80,585.20" fill="none" stroke="#000" stroke-width="1.85" stroke-linejoin="miter"/>
<line x1="163.10" y1="591.40" x2="231.80" y2="591.40" stroke="#000" stroke-width="1.15"/>
<line x1="260.40" y1="591.40" x2="273.60" y2="591.40" stroke="#000" stroke-width="1.15"/>
<line x1="301.60" y1="591.40" x2="315.60" y2="591.40" stroke="#000" stroke-width="1.15"/>
<line x1="163.10" y1="539.40" x2="215.20" y2="539.40" stroke="#000" stroke-width="1.15"/>
<line x1="171.30" y1="539.40" x2="171.30" y2="557.90" stroke="#000" stroke-width="1.15"/>
<path d="M171.30,539.40 L175.00,551.80 L171.30,550.06 L167.60,551.80 Z" fill="#000" stroke="none"/>
<line x1="171.30" y1="572.30" x2="171.30" y2="591.40" stroke="#000" stroke-width="1.15"/>
<path d="M171.30,591.40 L167.60,579.00 L171.30,580.74 L175.00,579.00 Z" fill="#000" stroke="none"/>
<text x="171.20" y="570.80" font-size="16.8" font-weight="bold" text-anchor="middle" >A</text>
<line x1="186.00" y1="585.30" x2="214.90" y2="585.30" stroke="#000" stroke-width="1.15"/>
<line x1="203.40" y1="565.80" x2="203.40" y2="585.30" stroke="#000" stroke-width="1.15"/>
<path d="M203.40,585.30 L199.70,572.90 L203.40,574.64 L207.10,572.90 Z" fill="#000" stroke="none"/>
<path d="M195.40,609.40 L203.40,609.40 L203.40,591.40" fill="none" stroke="#000" stroke-width="1.15" stroke-linejoin="miter"/>
<path d="M203.40,591.40 L207.10,603.80 L203.40,602.06 L199.70,603.80 Z" fill="#000" stroke="none"/>
<text x="172.00" y="614.70" font-size="16.5" font-weight="bold" textLength="19.00" lengthAdjust="spacingAndGlyphs" >A1</text>
<text x="243.10" y="620.50" font-size="16.5" font-weight="bold" textLength="84.00" lengthAdjust="spacingAndGlyphs" >SIDE VIEW</text>
<path d="M466.20,562.40 L467.90,541.00 L525.00,541.00 L526.80,562.40" fill="none" stroke="#000" stroke-width="1.8" stroke-linejoin="miter"/>
<path d="M466.20,567.90 L467.90,586.00 L525.00,586.00 L526.80,567.90" fill="none" stroke="#000" stroke-width="1.8" stroke-linejoin="miter"/>
<line x1="466.20" y1="562.40" x2="466.20" y2="567.90" stroke="#000" stroke-width="1.8"/>
<line x1="526.80" y1="562.40" x2="526.80" y2="567.90" stroke="#000" stroke-width="1.8"/>
<path d="M461.8,562.7 H531.0" fill="none" stroke="#000" stroke-width="1.8" />
<path d="M461.8,567.7 H532.1" fill="none" stroke="#000" stroke-width="1.0" />
<path d="M461.8,562.7 Q452.5,562.7 452.5,570.6 V578.3 Q452.5,581.8 449.8,582.7 L438.2,586.0 L438.8,590.2 L451.0,587.3 Q457.5,585.0 457.5,580.5 V571.2 Q457.5,567.7 461.8,567.7" fill="none" stroke="#000" stroke-width="1.8" stroke-linejoin="round"/>
<path d="M531.0,562.7 Q540.9,562.7 540.9,570.6 V579.4 Q540.9,582.3 544.2,583.3 L555.2,586.2 L554.6,590.2 L542.5,587.3 Q536.0,585.5 536.0,580.5 V571.2 Q536.0,567.7 532.1,567.7" fill="none" stroke="#000" stroke-width="1.8" stroke-linejoin="round"/>
<path d="M524.34,528.36 L525.49,527.39 L526.67,526.50 L527.88,525.69 L529.11,524.96 L530.35,524.30 L531.62,523.72 L532.90,523.23 L534.20,522.82 L535.51,522.49 L536.82,522.24 L538.14,522.08 L539.47,522.01 L540.80,522.02 L542.12,522.11 L543.44,522.29 L544.76,522.55 L546.06,522.89 L547.35,523.32 L548.63,523.83 L549.90,524.42 L551.14,525.10 L552.36,525.85 L553.56,526.68 L554.74,527.58" fill="none" stroke="#000" stroke-width="1.0" stroke-linejoin="miter"/>
<path d="M563.63,538.50 L564.25,539.65 L564.84,540.84 L565.40,542.06 L565.94,543.30 L566.45,544.57 L566.93,545.87 L567.39,547.18 L567.81,548.52 L568.20,549.88 L568.56,551.25 L568.89,552.64 L569.19,554.05 L569.45,555.47 L569.68,556.90 L569.88,558.34 L570.05,559.79 L570.19,561.25 L570.29,562.72 L570.36,564.19 L570.39,565.66 L570.40,567.13 L570.37,568.60 L570.30,570.07 L570.20,571.54" fill="none" stroke="#000" stroke-width="1.0" stroke-linejoin="miter"/>
<path d="M566.92,587.19 L566.40,588.56 L565.86,589.90 L565.28,591.21 L564.67,592.50 L564.03,593.75 L563.36,594.97 L562.67,596.15 L561.94,597.30 L561.19,598.41 L560.41,599.48 L559.61,600.51 L558.78,601.49 L557.93,602.44 L557.05,603.34 L556.16,604.19 L555.25,605.00 L554.31,605.76 L553.36,606.47 L552.40,607.13 L551.41,607.75 L550.42,608.31 L549.41,608.82 L548.39,609.27 L547.35,609.68" fill="none" stroke="#000" stroke-width="1.0" stroke-linejoin="miter"/>
<path d="M533.16,609.86 L532.10,609.47 L531.04,609.03 L530.00,608.52 L528.97,607.97 L527.96,607.36 L526.96,606.70 L525.98,605.98 L525.01,605.22 L524.07,604.40 L523.15,603.54 L522.25,602.62 L521.37,601.66 L520.51,600.66 L519.68,599.60 L518.88,598.51 L518.11,597.38 L517.36,596.20 L516.64,594.98 L515.96,593.73 L515.30,592.45 L514.68,591.13 L514.09,589.77 L513.53,588.39 L513.01,586.98" fill="none" stroke="#000" stroke-width="1.0" stroke-linejoin="miter"/>
<path d="M509.78,571.38 L509.70,570.10 L509.64,568.81 L509.61,567.52 L509.60,566.23 L509.62,564.94 L509.66,563.65 L509.73,562.36 L509.83,561.08 L509.95,559.80 L510.09,558.52 L510.26,557.26 L510.46,556.00 L510.68,554.75 L510.92,553.51 L511.19,552.28 L511.49,551.06 L511.81,549.86 L512.15,548.67 L512.51,547.49 L512.90,546.33 L513.31,545.19 L513.75,544.07 L514.20,542.96 L514.68,541.87" fill="none" stroke="#000" stroke-width="1.0" stroke-linejoin="miter"/>
<line x1="490.80" y1="613.80" x2="507.00" y2="604.00" stroke="#000" stroke-width="1.15"/>
<path d="M515.40,598.90 L506.62,608.54 L506.20,604.47 L502.79,602.21 Z" fill="#000" stroke="none"/>
<text x="415.50" y="618.50" font-size="11.3" font-weight="bold" textLength="72.10" lengthAdjust="spacingAndGlyphs" >SEE VIEW C</text>
<line x1="558.40" y1="586.40" x2="587.10" y2="586.40" stroke="#000" stroke-width="1.15"/>
<line x1="558.40" y1="590.50" x2="587.10" y2="590.50" stroke="#000" stroke-width="1.15"/>
<line x1="576.40" y1="559.10" x2="576.40" y2="586.00" stroke="#000" stroke-width="1.15"/>
<path d="M576.40,586.40 L572.70,574.00 L576.40,575.74 L580.10,574.00 Z" fill="#000" stroke="none"/>
<path d="M585.60,610.40 L576.40,610.40 L576.40,591.00" fill="none" stroke="#000" stroke-width="1.15" stroke-linejoin="miter"/>
<path d="M576.40,590.50 L580.10,602.90 L576.40,601.16 L572.70,602.90 Z" fill="#000" stroke="none"/>
<text x="592.00" y="613.70" font-size="15.8" font-weight="bold" >c</text>
<text x="500.30" y="640.50" font-size="16.5" font-weight="bold" text-anchor="middle" textLength="80.30" lengthAdjust="spacingAndGlyphs" >END VIEW</text>
<text x="956.00" y="631.10" font-size="18.5" font-weight="bold" text-anchor="middle" >GENERIC</text>
<text x="956.40" y="654.20" font-size="18.5" font-weight="bold" text-anchor="middle" >MARKING DIAGRAM*</text>
<rect x="895.00" y="687.90" width="124.80" height="53.40" fill="none" stroke="#000" stroke-width="1.6"/>
<path d="M948.10,687.90 L948.10,667.00 L966.90,667.00 L966.90,687.90" fill="none" stroke="#000" stroke-width="1.6" stroke-linejoin="miter"/>
<path d="M907.20,741.30 L907.20,763.50 L926.90,763.50 L926.90,741.30" fill="none" stroke="#000" stroke-width="1.6" stroke-linejoin="miter"/>
<path d="M989.10,741.30 L989.10,763.50 L1007.80,763.50 L1007.80,741.30" fill="none" stroke="#000" stroke-width="1.6" stroke-linejoin="miter"/>
<text x="893.00" y="763.50" font-size="17" >1</text>
<text x="930.00" y="712.90" font-size="16.0" textLength="46.00" lengthAdjust="spacingAndGlyphs" >XXXM</text>
<rect x="978.8" y="705.3" width="4.9" height="4.6" fill="#000"/>
<rect x="955.2" y="726.3" width="4.7" height="4.5" fill="#000"/>
<text x="847.70" y="802.90" font-size="16.4" >XXX</text>
<text x="885.50" y="802.90" font-size="16.4" >=</text>
<text x="899.20" y="802.90" font-size="16.4" >Specific Device Code</text>
<text x="848.00" y="823.80" font-size="16.4" >M</text>
<text x="885.50" y="823.80" font-size="16.4" >=</text>
<text x="899.10" y="823.80" font-size="16.4" >Date Code</text>
<rect x="849.4" y="837.4" width="4.7" height="4.7" fill="#000"/>
<text x="885.50" y="844.60" font-size="16.4" >=</text>
<text x="899.00" y="844.60" font-size="16.4" >Pb−Free Package</text>
<text x="788.20" y="899.80" font-size="16.5" style="word-spacing:1.954px">*This information is generic. Please refer to</text>
<text x="798.20" y="919.20" font-size="16.5" >device data sheet for actual part marking.</text>
<text x="798.10" y="937.60" font-size="16.5" >Pb−Free indicator, “G” or microdot “</text>
<rect x="1067.0" y="929.2" width="4.6" height="4.6" fill="#000"/>
<text x="1072.50" y="937.60" font-size="16.5" >”,</text>
<text x="798.20" y="955.50" font-size="16.5" >may or may not be present.</text>
<text x="321.30" y="687.60" font-size="18.5" font-weight="bold" text-anchor="middle" >RECOMMENDED</text>
<text x="321.40" y="709.70" font-size="18.5" font-weight="bold" text-anchor="middle" >SOLDERING FOOTPRINT</text>
<rect x="303.60" y="735.30" width="37.60" height="41.90" fill="none" stroke="#000" stroke-width="1.4"/>
<rect x="259.60" y="827.70" width="37.70" height="41.90" fill="none" stroke="#000" stroke-width="1.4"/>
<rect x="347.70" y="827.70" width="37.50" height="41.90" fill="none" stroke="#000" stroke-width="1.4"/>
<line x1="322.40" y1="728.30" x2="322.40" y2="781.70" stroke="#000" stroke-width="1.15"/>
<line x1="322.40" y1="796.30" x2="322.40" y2="809.30" stroke="#000" stroke-width="1.15"/>
<line x1="322.40" y1="823.20" x2="322.40" y2="913.50" stroke="#000" stroke-width="1.15"/>
<line x1="257.40" y1="802.30" x2="305.10" y2="802.30" stroke="#000" stroke-width="1.15"/>
<line x1="316.00" y1="802.30" x2="328.70" y2="802.30" stroke="#000" stroke-width="1.15"/>
<line x1="339.50" y1="802.30" x2="387.20" y2="802.30" stroke="#000" stroke-width="1.15"/>
<line x1="366.30" y1="816.10" x2="366.30" y2="825.70" stroke="#000" stroke-width="1.15"/>
<line x1="366.30" y1="828.00" x2="366.30" y2="842.00" stroke="#000" stroke-width="1.15"/>
<line x1="366.30" y1="845.50" x2="366.30" y2="848.50" stroke="#000" stroke-width="1.15"/>
<line x1="366.30" y1="852.00" x2="366.30" y2="866.00" stroke="#000" stroke-width="1.15"/>
<line x1="366.30" y1="869.60" x2="366.30" y2="872.00" stroke="#000" stroke-width="1.15"/>
<line x1="366.30" y1="875.00" x2="366.30" y2="912.30" stroke="#000" stroke-width="1.15"/>
<line x1="219.70" y1="735.30" x2="298.60" y2="735.30" stroke="#000" stroke-width="1.15"/>
<line x1="219.70" y1="869.60" x2="254.90" y2="869.60" stroke="#000" stroke-width="1.15"/>
<line x1="228.30" y1="735.30" x2="228.30" y2="790.50" stroke="#000" stroke-width="1.15"/>
<path d="M228.30,735.30 L232.00,747.70 L228.30,745.96 L224.60,747.70 Z" fill="#000" stroke="none"/>
<line x1="228.30" y1="815.60" x2="228.30" y2="869.60" stroke="#000" stroke-width="1.15"/>
<path d="M228.30,869.60 L224.60,857.20 L228.30,858.94 L232.00,857.20 Z" fill="#000" stroke="none"/>
<text x="213.90" y="808.80" font-size="16.2" textLength="32.50" lengthAdjust="spacingAndGlyphs" >2.90</text>
<line x1="389.00" y1="828.20" x2="421.50" y2="828.20" stroke="#000" stroke-width="1.15"/>
<line x1="389.00" y1="869.60" x2="421.50" y2="869.60" stroke="#000" stroke-width="1.15"/>
<line x1="409.00" y1="828.20" x2="409.00" y2="869.60" stroke="#000" stroke-width="1.15"/>
<path d="M409.00,828.20 L412.70,840.60 L409.00,838.86 L405.30,840.60 Z" fill="#000" stroke="none"/>
<path d="M409.00,869.60 L405.30,857.20 L409.00,858.94 L412.70,857.20 Z" fill="#000" stroke="none"/>
<path d="M409.00,828.20 L409.00,804.30 L423.50,804.30" fill="none" stroke="#000" stroke-width="1.15" stroke-linejoin="miter"/>
<text x="433.40" y="794.30" font-size="12.2" >3X</text>
<text x="428.50" y="810.10" font-size="16.2" textLength="32.40" lengthAdjust="spacingAndGlyphs" >0.90</text>
<line x1="259.60" y1="874.60" x2="259.60" y2="912.30" stroke="#000" stroke-width="1.15"/>
<line x1="297.30" y1="874.60" x2="297.30" y2="912.30" stroke="#000" stroke-width="1.15"/>
<text x="168.60" y="913.50" font-size="12.2" >3X</text>
<text x="189.60" y="913.50" font-size="16.2" textLength="31.80" lengthAdjust="spacingAndGlyphs" >0.80</text>
<line x1="227.30" y1="907.20" x2="259.60" y2="907.20" stroke="#000" stroke-width="1.15"/>
<path d="M259.60,907.20 L247.20,910.90 L248.94,907.20 L247.20,903.50 Z" fill="#000" stroke="none"/>
<line x1="297.30" y1="907.20" x2="318.00" y2="907.20" stroke="#000" stroke-width="1.15"/>
<path d="M297.30,907.20 L309.70,903.50 L307.96,907.20 L309.70,910.90 Z" fill="#000" stroke="none"/>
<line x1="322.40" y1="907.20" x2="388.40" y2="907.20" stroke="#000" stroke-width="1.15"/>
<path d="M322.40,907.20 L334.80,903.50 L333.06,907.20 L334.80,910.90 Z" fill="#000" stroke="none"/>
<path d="M366.30,907.20 L353.90,910.90 L355.64,907.20 L353.90,903.50 Z" fill="#000" stroke="none"/>
<text x="391.70" y="913.00" font-size="16.2" textLength="32.20" lengthAdjust="spacingAndGlyphs" >0.95</text>
<text x="391.20" y="930.60" font-size="16.2" textLength="49.60" lengthAdjust="spacingAndGlyphs" >PITCH</text>
<text x="285.50" y="954.20" font-size="12.4" >DIMENSIONS: MILLIMETERS</text>
<path d="M136.6,191.0 L161.8,177.2 L220.6,210.4 L221.0,234.8 L195.2,249.2 L135.2,214.6 Z" fill="#000" stroke="#000" stroke-width="0.8" stroke-linejoin="round"/>
<path d="M190.2,192.2 L191.6,191.4 L208.1,200.6 L208.2,203.4 L205.0,201.6 Z" fill="#000" stroke="#fff" stroke-width="0.6"/>
<line x1="136.80" y1="192.00" x2="194.60" y2="225.40" stroke="#fff" stroke-width="0.9"/>
<line x1="194.60" y1="225.40" x2="220.40" y2="211.20" stroke="#fff" stroke-width="0.9"/>
<line x1="194.60" y1="225.40" x2="195.00" y2="248.60" stroke="#fff" stroke-width="0.9"/>
<line x1="135.60" y1="205.40" x2="194.40" y2="239.20" stroke="#fff" stroke-width="0.9"/>
<line x1="194.40" y1="239.20" x2="220.80" y2="224.60" stroke="#fff" stroke-width="0.9"/>
<path d="M139.6,208.8 L149.4,213.8 L140.0,229.6 L130.0,224.4 L130.2,221.9 Z" fill="#fff" stroke="#000" stroke-width="0.9" stroke-linejoin="round"/>
<line x1="130.20" y1="221.90" x2="140.20" y2="227.20" stroke="#000" stroke-width="0.7"/>
<line x1="140.20" y1="227.20" x2="140.00" y2="229.60" stroke="#000" stroke-width="0.7"/>
<line x1="140.20" y1="227.20" x2="149.40" y2="213.80" stroke="#000" stroke-width="0.7"/>
<path d="M176.4,232.0 L188.2,237.4 L178.8,252.6 L169.2,247.4 L169.4,244.9 Z" fill="#fff" stroke="#000" stroke-width="0.9" stroke-linejoin="round"/>
<line x1="169.40" y1="244.90" x2="179.00" y2="250.20" stroke="#000" stroke-width="0.7"/>
<line x1="179.00" y1="250.20" x2="178.80" y2="252.60" stroke="#000" stroke-width="0.7"/>
<line x1="179.00" y1="250.20" x2="188.20" y2="237.40" stroke="#000" stroke-width="0.7"/>
<text x="144.80" y="275.70" font-size="16.3" font-weight="bold" textLength="67.00" lengthAdjust="spacingAndGlyphs" stroke="#000" stroke-width="0.35">SCALE 4:1</text>
</svg>

</body></html>
